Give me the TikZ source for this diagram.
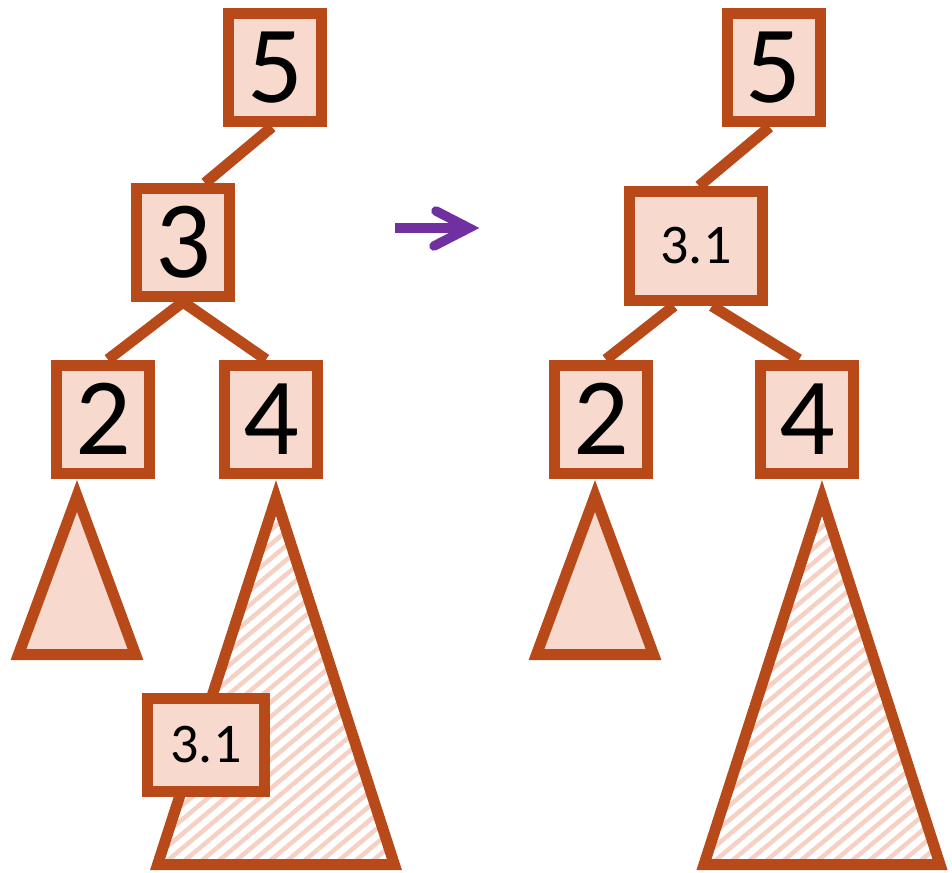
\documentclass[tikz,border=0pt]{standalone}
\usepackage{fontspec}
\setmainfont{Carlito}
\usetikzlibrary{patterns.meta,calc}
\definecolor{rust}{HTML}{B84A1A}
\definecolor{peach}{HTML}{F8D9CD}
\definecolor{hatchpink}{HTML}{F6D0C2}
\definecolor{arrowpurple}{HTML}{7030A0}
\pgfdeclarelayer{background}
\pgfsetlayers{background,main}
\tikzset{
  keybox/.style={draw=rust, fill=peach, line width=11pt, inner sep=0pt,
    minimum width=93pt, minimum height=108pt, font=\fontsize{110}{110}\selectfont},
  smallkey/.style={draw=rust, fill=peach, line width=11pt, inner sep=0pt,
    font=\fontsize{56}{56}\selectfont},
  treeedge/.style={draw=rust, line width=11pt},
  subtree/.style={draw=rust, fill=peach, line width=11pt, line join=miter},
  bigsubtree/.style={draw=rust, line width=11pt, line join=miter,
    pattern={Lines[angle=40,distance=11pt,line width=4.5pt]}, pattern color=hatchpink},
  purplearrow/.style={draw=arrowpurple, line width=9.5pt}
}
\begin{document}
\begin{tikzpicture}[x=1pt,y=-1pt]
\useasboundingbox (0,0) rectangle (952,872);
% left tree nodes
\node[keybox] (L5) at (275,67.5) {5};
\node[keybox] (L3) at (183,242.5) {3};
\node[keybox] (L2) at (103,419) {2};
\node[keybox] (L4) at (271,419) {4};
% right tree nodes
\node[keybox] (R5) at (773.5,67.5) {5};
\node[smallkey, minimum width=133pt, minimum height=109pt] (R31) at (696,246) {3.1};
\node[keybox] (R2) at (601,419) {2};
\node[keybox] (R4) at (807,419) {4};
\begin{pgfonlayer}{background}
  % subtrees
  \draw[subtree] (77,496) -- (18.5,654.5) -- (135.5,654.5) -- cycle;
  \draw[bigsubtree] (276,498) -- (157.6,864.5) -- (394.4,864.5) -- cycle;
  \draw[subtree] (595,496) -- (536.5,654.5) -- (653.5,654.5) -- cycle;
  \draw[bigsubtree] (822,498) -- (704,864.5) -- (940,864.5) -- cycle;
  % edges left
  \draw[treeedge] ($(L5.south)+(-3,0)$) -- ($(L3.north)+(22,0)$);
  \draw[treeedge] (L3.south) -- ($(L2.north)+(5,0)$);
  \draw[treeedge] (L3.south) -- ($(L4.north)+(-5,0)$);
  % edges right
  \draw[treeedge] ($(R5.south)+(-4,0)$) -- ($(R31.north)+(3,0)$);
  \draw[treeedge] ($(R31.south)+(-22,0)$) -- ($(R2.north)+(5,0)$);
  \draw[treeedge] ($(R31.south)+(16,0)$) -- ($(R4.north)+(-8,0)$);
\end{pgfonlayer}
% node inside the big left subtree
\node[smallkey, minimum width=117pt, minimum height=93pt] (L31) at (206,745) {3.1};
% transformation arrow
\coordinate (arrS) at (395,228);
\coordinate (arrE) at (469,228);
\draw[purplearrow] (arrS) -- (arrE);
\draw[purplearrow, line cap=round, line join=miter] ($(arrE)+(-33,-17)$) -- (arrE) -- ($(arrE)+(-35,18)$);
\end{tikzpicture}
\end{document}
